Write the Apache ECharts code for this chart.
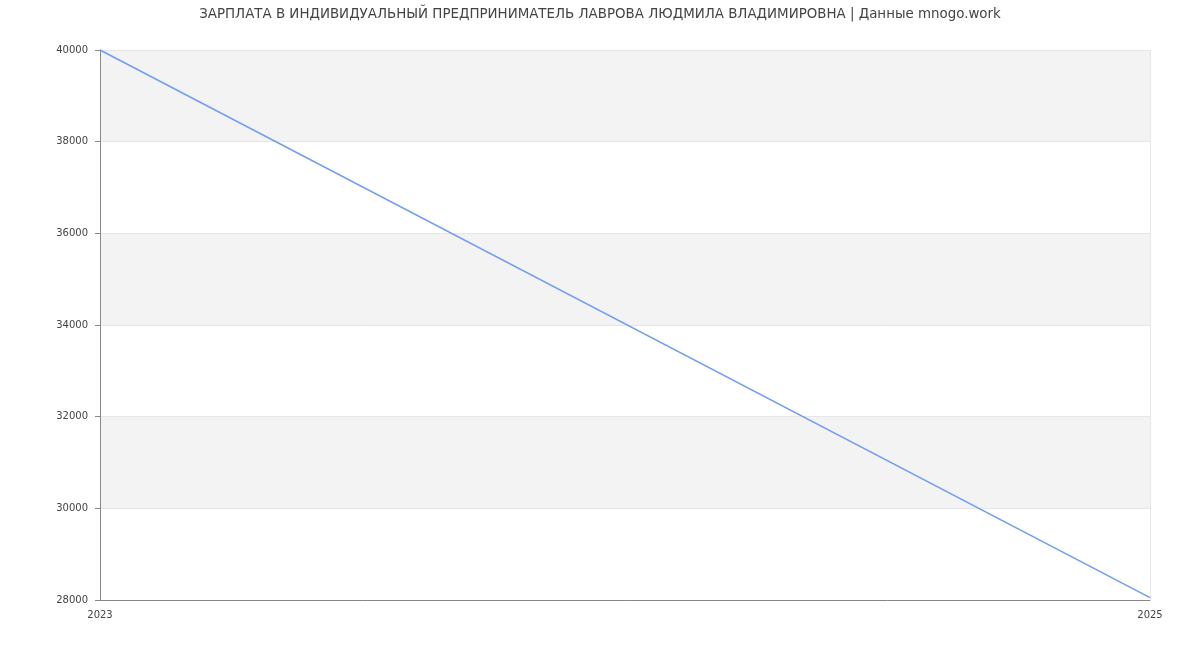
<!DOCTYPE html>
<html><head><meta charset="utf-8">
<script src="https://cdn.jsdelivr.net/npm/echarts@6/dist/echarts.min.js"></script>
<style>html,body{margin:0;padding:0;background:#fff}#c{width:1200px;height:650px}</style>
</head><body><div id="c"></div>
<script>
const titleText = 'ЗАРПЛАТА В ИНДИВИДУАЛЬНЫЙ ПРЕДПРИНИМАТЕЛЬ ЛАВРОВА ЛЮДМИЛА ВЛАДИМИРОВНА | Данные mnogo.work';
const years = ['2023', '2025'];
const salary = [40000, 28050];
const yTicks = {min: 28000, max: 40000, interval: 2000};

const chart = echarts.init(document.getElementById('c'));
chart.setOption({
  animation: false,
  textStyle: {fontFamily: 'DejaVu Sans'},
  title: {text: titleText, left: 'center', top: 3,
    textStyle: {fontSize: 13.4, fontWeight: 'normal', color: '#444', fontFamily: 'DejaVu Sans'}},
  grid: {left: 100, right: 50, top: 50, bottom: 50, containLabel: false},
  xAxis: {type: 'category', data: years, boundaryGap: false,
    axisLine: {lineStyle: {color: '#888'}},
    axisTick: {show: false},
    axisLabel: {color: '#444', fontSize: 10, margin: 10},
    splitLine: {show: true, lineStyle: {color: '#e6e6e6'}}},
  yAxis: {type: 'value', min: yTicks.min, max: yTicks.max, interval: yTicks.interval,
    axisLine: {show: true, lineStyle: {color: '#888'}},
    axisTick: {show: true, length: 5, lineStyle: {color: '#888'}},
    axisLabel: {color: '#444', fontSize: 10, margin: 12, formatter: v => String(v)},
    splitLine: {show: true, lineStyle: {color: '#e6e6e6'}},
    splitArea: {show: true, areaStyle: {color: ['#ffffff', '#f3f3f3']}}},
  series: [{type: 'line', data: salary, symbol: 'none',
    lineStyle: {color: '#6e9cf7', width: 1.5}}]
});
</script></body></html>
